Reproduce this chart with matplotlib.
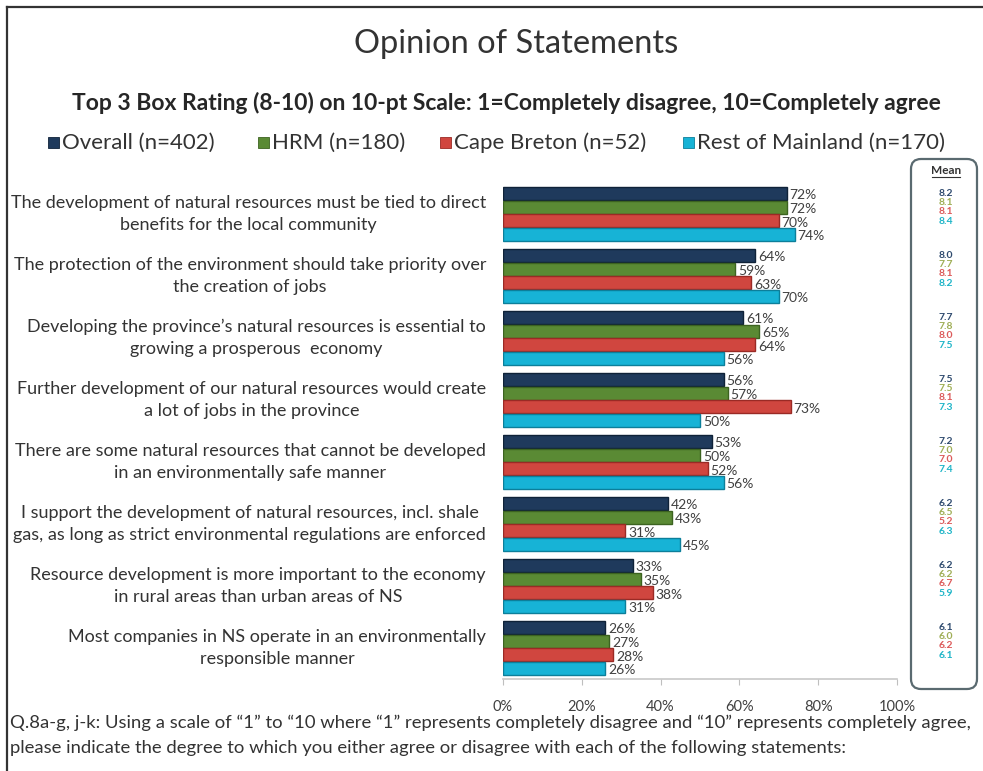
import matplotlib
matplotlib.use("Agg")
import matplotlib.pyplot as plt
from matplotlib.patches import FancyBboxPatch, Rectangle
from matplotlib.transforms import blended_transform_factory
import numpy as np

plt.rcParams['font.family'] = ['Lato', 'DejaVu Sans']

statements = [
    "The development of natural resources must be tied to direct\nbenefits for the local community",
    "The protection of the environment should take priority over\nthe creation of jobs",
    "Developing the province\u2019s natural resources is essential to\ngrowing a prosperous  economy",
    "Further development of our natural resources would create\na lot of jobs in the province",
    "There are some natural resources that cannot be developed\nin an environmentally safe manner",
    "I support the development of natural resources, incl. shale\ngas, as long as strict environmental regulations are enforced",
    "Resource development is more important to the economy\nin rural areas than urban areas of NS",
    "Most companies in NS operate in an environmentally\nresponsible manner",
]
series_names = ["Overall (n=402)", "HRM (n=180)", "Cape Breton (n=52)", "Rest of Mainland (n=170)"]

overall = [72, 64, 61, 56, 53, 42, 33, 26]
hrm = [72, 59, 65, 57, 50, 43, 35, 27]
cape_breton = [70, 63, 64, 73, 52, 31, 38, 28]
rest_mainland = [74, 70, 56, 50, 56, 45, 31, 26]

mean_overall = [8.2, 8.0, 7.7, 7.5, 7.2, 6.2, 6.2, 6.1]
mean_hrm = [8.1, 7.7, 7.8, 7.5, 7.0, 6.5, 6.2, 6.0]
mean_cape_breton = [8.1, 8.1, 8.0, 8.1, 7.0, 5.2, 6.7, 6.2]
mean_rest_mainland = [8.4, 8.2, 7.5, 7.3, 7.4, 6.3, 5.9, 6.1]

x_ticks = [0, 20, 40, 60, 80, 100]

bar_colors = ["#1f3a5c", "#5a8a34", "#d0463f", "#17b3d6"]
edge_colors = ["#0f2238", "#3c6320", "#9a2a25", "#0c7f9a"]
mean_colors = ["#2e4a6e", "#9fae55", "#dc5a5a", "#1fb5c8"]

values = [overall, hrm, cape_breton, rest_mainland]
means = [mean_overall, mean_hrm, mean_cape_breton, mean_rest_mainland]

W, H = 983, 771
fig = plt.figure(figsize=(W / 100, H / 100), dpi=100)

# full-figure overlay in pixel coordinates for titles, legend, frame and notes
ov = fig.add_axes([0, 0, 1, 1])
ov.set_xlim(0, W)
ov.set_ylim(H, 0)
ov.axis("off")

ax = fig.add_axes([503 / W, 1 - 679 / H, (897 - 503) / W, (679 - 183) / H])
n = len(statements)
pos = np.arange(n)
bh = 0.205
step = 0.22
offsets = (np.arange(4) - 1.5) * step

for k in range(4):
    ys = pos + offsets[k]
    ax.barh(ys, values[k], height=bh, color=bar_colors[k],
            edgecolor=edge_colors[k], linewidth=1.0, zorder=3)
    for y, v in zip(ys, values[k]):
        ax.text(v + 0.7, y + 0.03, f"{v}%", va="center", ha="left",
                fontsize=10, color="#404040", zorder=4)

ax.set_xlim(0, 100)
ax.set_ylim(n - 0.5, -0.5)
ax.set_yticks([])
ax.set_xticks(x_ticks)
ax.set_xticklabels([f"{t}%" for t in x_ticks], fontsize=10.5, color="#404040")
ax.tick_params(axis="x", length=4, color="#bfbfbf", pad=11)
for s in ["top", "right", "left"]:
    ax.spines[s].set_visible(False)
ax.spines["bottom"].set_color("#c8c8c8")
ax.spines["bottom"].set_linewidth(1.2)
ax.patch.set_alpha(0)

# statement labels, right edge just left of the bars
lab_tr = blended_transform_factory(ov.transData, ax.transData)
for i, s in enumerate(statements):
    ov.text(486, i, s, transform=lab_tr, ha="right", va="center",
            multialignment="center", fontsize=13, color="#333333",
            linespacing=1.45)

# mean column box
box = FancyBboxPatch((911, 159), 66, 530, boxstyle="round,pad=0,rounding_size=10",
                     facecolor="none", edgecolor="#5a6a70", linewidth=1.6)
ov.add_patch(box)
ov.text(946, 171, "Mean", ha="center", va="center", fontsize=8.5,
        fontweight="bold", color="#333333")
ov.plot([932, 960], [177, 177], color="#333333", linewidth=0.8)
m_step = 0.15
for k in range(4):
    for i in range(n):
        ov.text(946, i - 0.11 + (k - 1.5) * m_step, f"{means[k][i]:.1f}",
                transform=lab_tr, ha="center", va="center", fontsize=7.5,
                fontweight="bold", color=mean_colors[k])

# frame on left and top
ov.plot([7, 7], [7, H], color="#333333", linewidth=1.6)
ov.plot([7, W], [7, 7], color="#333333", linewidth=1.6)

# titles
ov.text(516, 44, "Opinion of Statements", ha="center", va="center",
        fontsize=23.5, color="#333333")
ov.text(506, 103, "Top 3 Box Rating (8-10) on 10-pt Scale: 1=Completely disagree, 10=Completely agree",
        ha="center", va="center", fontsize=16.5, fontweight="bold", color="#262626")

# legend
leg_x = [48, 258, 440, 683]
for k in range(4):
    ov.add_patch(Rectangle((leg_x[k], 137), 11, 11, facecolor=bar_colors[k],
                           edgecolor=edge_colors[k], linewidth=0.6))
    ov.text(leg_x[k] + 14, 143, series_names[k], ha="left", va="center",
            fontsize=16, color="#333333")

# question note
ov.text(10, 723, "Q.8a-g, j-k: Using a scale of \u201c1\u201d to \u201c10 where \u201c1\u201d represents completely disagree and \u201c10\u201d represents completely agree,",
        ha="left", va="center", fontsize=13.3, color="#333333")
ov.text(10, 748, "please indicate the degree to which you either agree or disagree with each of the following statements:",
        ha="left", va="center", fontsize=13.3, color="#333333")

fig.savefig("out.png", dpi=100, facecolor="white")
